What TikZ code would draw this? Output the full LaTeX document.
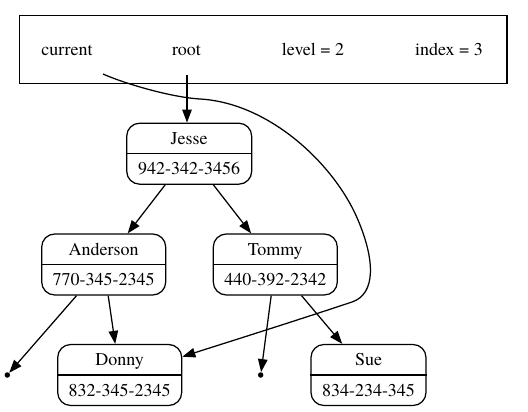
\documentclass[tikz,border=0pt]{standalone}
\usepackage{fontspec}
\newfontfamily\trfont{texgyretermes-regular.otf}
\usetikzlibrary{arrows.meta,calc}
\tikzset{
  rec/.style={draw, line width=1.25pt, rounded corners=13pt, minimum height=61pt, inner sep=0pt},
  topbox/.style={draw, line width=1.25pt, minimum width=487.5pt, minimum height=68pt, inner sep=0pt},
  lbl/.style={anchor=base, inner sep=0pt, font=\trfont\fontsize{18}{21}\selectfont},
  dot/.style={circle, fill, inner sep=0pt, minimum size=5.5pt},
  arr/.style={line width=1.25pt, -{Triangle[length=13pt,width=9.5pt]}},
}
\newcommand\recnode[6]{%
  \node[rec, minimum width=#4] (#1) at (#2,#3) {};
  \draw[line width=1.25pt] (#1.west) -- (#1.east);
  \node[lbl] (#1-a) at ([yshift=9.3pt]#1.center) {#5};
  \node[lbl] (#1-b) at ([yshift=-21.3pt]#1.center) {#6};
}
\begin{document}
\begin{tikzpicture}[x=1pt,y=-1pt]
\useasboundingbox (0,0) rectangle (528,412);
% top record
\node[topbox] (top) at (263.25,49.5) {};
\node[lbl] (tcur) at (67,56) {current};
\node[lbl] (troot) at (186.5,56) {root};
\node[lbl] (tlev) at (313,56) {level = 2};
\node[lbl] (tidx) at (449,56) {index = 3};
\coordinate (curp) at (103,74);
\coordinate (rootp) at (187,75);
% tree
\recnode{J}{189.2}{153.7}{125pt}{Jesse}{942-342-3456}
\recnode{A}{103.7}{264.5}{124pt}{Anderson}{770-345-2345}
\recnode{T}{275.3}{264.5}{124pt}{Tommy}{440-392-2342}
\recnode{D}{119.7}{375}{124pt}{Donny}{832-345-2345}
\recnode{S}{368.5}{375}{115pt}{Sue}{834-234-345}
\node[dot] (pL) at (7.3,375) {};
\node[dot] (pR) at (260.7,375) {};
% edges
\draw[arr] (rootp) -- (rootp |- J.north);
\draw[arr] (J) -- (A);
\draw[arr] (J) -- (T);
\draw[arr] (A) -- (pL);
\draw[arr] (A) -- (D);
\draw[arr] (T) -- (pR);
\draw[arr] (T) -- (S);
\draw[arr] (curp) .. controls (123,83) and (170,97.2) .. (200,99)
  .. controls (270,103) and (335,165) .. (358,220)
  .. controls (375,260) and (376,294) .. (352,302)
  .. controls (292,322) and (222,344) .. ([yshift=18.3pt]D.east);
\end{tikzpicture}
\end{document}
